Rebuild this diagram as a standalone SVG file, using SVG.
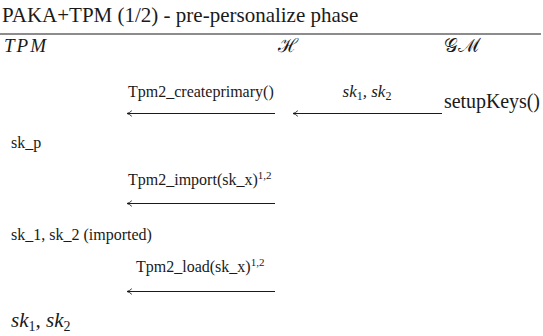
<svg xmlns="http://www.w3.org/2000/svg" width="543" height="336" viewBox="0 0 543 336">
<style>
text{font-family:"Liberation Serif","DejaVu Serif",serif;fill:#1a1a1a}
.lbl{font-size:16px}
.it{font-style:italic}
.ln{stroke:#1a1a1a;stroke-width:1.1;fill:none}
.cal{font-family:"DejaVu Serif",serif;font-size:19px}
</style>
<defs>
<marker id="ah" viewBox="0 0 10 10" refX="9" refY="5" markerWidth="8" markerHeight="8" markerUnits="userSpaceOnUse" orient="auto">
<path d="M3,1.5 Q6,4.3 9,5 Q6,5.7 3,8.5" fill="none" stroke="#1a1a1a" stroke-width="1.1"/>
</marker>
</defs>
<rect width="543" height="336" fill="#fff"/>
<g id="title"><text x="2" y="22" font-size="21">PAKA+TPM (1/2) - pre-personalize phase</text>
<line class="ln" x1="0" y1="34" x2="541" y2="34"/></g>
<g id="tpm"><text x="4" y="52" font-size="19" class="it" letter-spacing="2">TPM</text>
<text x="11" y="148" class="lbl">sk_p</text>
<text x="11" y="240" class="lbl">sk_1, sk_2 (imported)</text>
<text x="11" y="327" font-size="21" class="it">sk<tspan font-size="14" dy="4" font-style="normal">1</tspan><tspan dy="-4">, sk</tspan><tspan font-size="14" dy="4" font-style="normal">2</tspan></text></g>
<g id="h"><text x="278" y="52" class="cal">ℋ</text></g>
<g id="gm"><text x="444" y="52" class="cal">𝒢ℳ</text>
<text x="444" y="108" font-size="20" textLength="96">setupKeys()</text></g>
<g id="connectors">
<line class="ln" x1="275" y1="113.5" x2="127" y2="113.5" marker-end="url(#ah)"/>
<text x="128" y="97" class="lbl">Tpm2_createprimary()</text>
<line class="ln" x1="442" y1="113.5" x2="293" y2="113.5" marker-end="url(#ah)"/>
<text x="367" y="97" font-size="17" class="it" text-anchor="middle">sk<tspan font-size="12" dy="3" font-style="normal">1</tspan><tspan dy="-3">, sk</tspan><tspan font-size="12" dy="3" font-style="normal">2</tspan></text>
<line class="ln" x1="275" y1="203.5" x2="127" y2="203.5" marker-end="url(#ah)"/>
<text x="128" y="185" class="lbl">Tpm2_import(sk_x)<tspan font-size="11" dy="-6">1,2</tspan></text>
<line class="ln" x1="275" y1="291.5" x2="127" y2="291.5" marker-end="url(#ah)"/>
<text x="136" y="272" class="lbl">Tpm2_load(sk_x)<tspan font-size="11" dy="-6">1,2</tspan></text>
</g>
</svg>
